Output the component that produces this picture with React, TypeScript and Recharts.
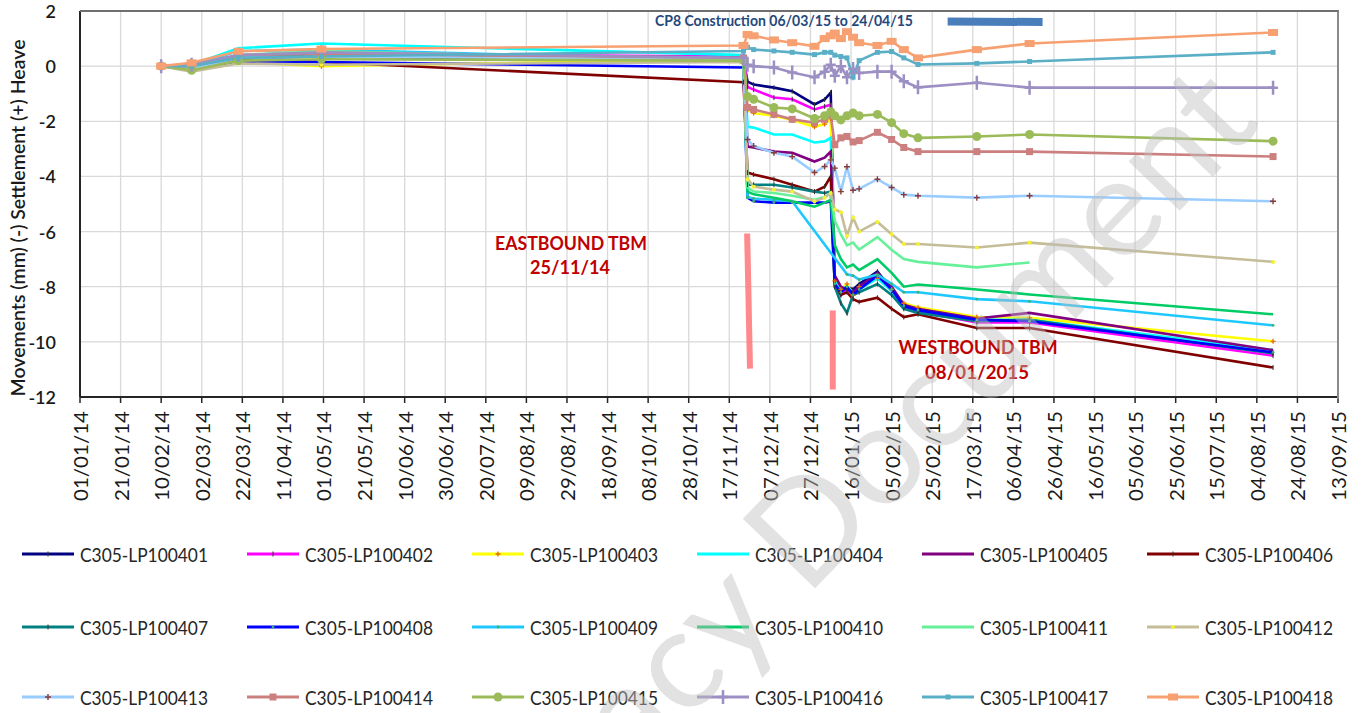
import React from 'react';
import { LineChart, Line, XAxis, YAxis, CartesianGrid, ReferenceLine } from 'recharts';

const FONT = "Lato, 'Open Sans', 'DejaVu Sans', sans-serif";

// x values: days since 01/01/14
const days = [40, 55, 78, 119, 327, 329, 332, 342, 351, 362, 367, 370, 372, 375, 378, 381, 384, 393, 400, 406, 413, 442, 468, 588];

const s401 = [0, -0.1, 0.3, 0.35, 0.2, -0.56, -0.67, -0.78, -0.91, -1.39, -1.21, -0.96, -7.8, -8.2, -8.0, -8.1, -7.9, -7.45, -8.1, -8.7, -8.9, -9.25, -9.25, -10.4];
const s402 = [0, 0, 0.35, 0.45, 0.35, -0.75, -0.85, -1.14, -1.2, -1.57, -1.46, -1.4, -7.9, -8.3, -8.1, -8.25, -8.0, -7.6, -8.15, -8.75, -8.9, -9.3, -9.3, -10.5];
const s403 = [0, -0.05, 0.15, 0.0, 0.25, -1.6, -1.7, -1.8, -1.95, -2.2, -2.1, -1.9, -7.8, -8.1, -7.9, -8.3, -8.0, -7.7, -8.1, -8.6, -8.75, -9.1, -9.13, -9.98];
const s404 = [0, 0.05, 0.65, 0.82, 0.4, -2.2, -2.23, -2.48, -2.48, -2.77, -2.73, -2.6, -7.7, -8.1, -8.0, -8.2, -8.1, -7.7, -8.15, -8.7, -8.85, -9.2, -9.2, -10.3];
const s405 = [0, -0.05, 0.3, 0.45, 0.3, -2.92, -2.95, -3.1, -3.14, -3.46, -3.32, -3.1, -7.6, -8.0, -8.1, -8.2, -8.0, -7.5, -8.0, -8.65, -8.8, -9.15, -8.95, -10.3];
const s406 = [0, -0.05, 0.25, 0.15, -0.58, -3.86, -3.93, -4.1, -4.3, -4.55, -4.37, -4.0, -8.0, -8.3, -8.2, -8.45, -8.55, -8.4, -8.8, -9.1, -9.0, -9.5, -9.5, -10.93];
const s407 = [0, -0.1, 0.3, 0.4, 0.2, -4.3, -4.3, -4.3, -4.4, -4.55, -4.6, -4.55, -8.0, -8.6, -8.95, -8.3, -8.2, -7.9, -8.3, -8.8, -8.95, -9.25, -9.2, -10.42];
const s408 = [0, -0.05, 0.15, 0.15, -0.05, -4.77, -4.9, -4.95, -4.95, -4.95, -4.95, -4.9, -7.9, -8.2, -8.0, -8.3, -8.1, -7.6, -8.1, -8.7, -8.85, -9.2, -9.25, -10.38];
const s409 = [0, 0, 0.55, 0.6, 0.2, -4.75, -4.8, -4.85, -4.9, null, null, null, null, null, -7.55, -7.6, -7.74, -7.56, -7.9, -8.2, -8.2, -8.45, -8.53, -9.4];
const s410 = [0, -0.1, 0.35, 0.5, 0.2, -4.55, -4.65, -4.77, -4.9, -5.1, -4.95, -4.85, -6.5, -7.0, -7.3, -7.2, -7.4, -7.0, -7.5, -8.0, -7.92, -8.1, -8.28, -9.0];
const s411 = [0, -0.05, 0.4, 0.55, 0.2, -4.4, -4.55, -4.6, -4.7, -4.85, -4.75, -4.6, -5.6, -6.1, -6.5, -6.4, -6.65, -6.2, -6.66, -7.0, -7.1, -7.3, -7.12, null];
const s412 = [0, -0.2, 0.1, 0.05, 0.15, -4.1, -4.37, -4.48, -4.55, -4.9, -4.77, -4.6, -5.2, -5.3, -6.15, -5.5, -6.0, -5.65, -6.1, -6.45, -6.45, -6.58, -6.4, -7.1];
const s413 = [0, -0.1, 0.3, 0.35, 0.25, -2.66, -2.9, -3.14, -3.28, -3.86, -3.64, -3.4, -3.7, -4.55, -3.65, -4.5, -4.45, -4.1, -4.4, -4.66, -4.7, -4.77, -4.7, -4.9];
const s414 = [0, 0, 0.4, 0.45, 0.3, -1.5, -1.57, -1.75, -1.93, -2.05, -1.93, -1.8, -2.85, -2.6, -2.55, -2.75, -2.7, -2.4, -2.66, -2.95, -3.1, -3.1, -3.1, -3.28];
const s415 = [0, -0.15, 0.2, 0.25, 0.2, -1.1, -1.2, -1.5, -1.55, -1.9, -1.8, -1.65, -1.8, -1.95, -1.8, -1.7, -1.8, -1.75, -2.05, -2.45, -2.6, -2.55, -2.48, -2.72];
const s416 = [0, 0.05, 0.4, 0.5, 0.3, 0.05, 0, -0.05, -0.23, -0.4, -0.2, 0.05, -0.35, 0, -0.4, -0.1, -0.25, -0.2, -0.2, -0.55, -0.77, -0.6, -0.78, -0.78];
const s417 = [0, 0, 0.3, 0.35, 0.55, 0.68, 0.6, 0.55, 0.5, 0.42, 0.5, 0.5, 0.4, 0.35, 0.3, -0.4, 0.2, 0.5, 0.53, 0.3, 0.06, 0.1, 0.17, 0.5];
const s418 = [0, 0.12, 0.54, 0.62, 0.75, 1.15, 1.1, 0.95, 0.85, 0.72, 1.0, 1.1, 1.2, 1.0, 1.25, 1.05, 0.85, 0.75, 0.9, 0.6, 0.3, 0.6, 0.82, 1.22];

const seriesNames = [
  'C305-LP100401', 'C305-LP100402', 'C305-LP100403', 'C305-LP100404', 'C305-LP100405', 'C305-LP100406',
  'C305-LP100407', 'C305-LP100408', 'C305-LP100409', 'C305-LP100410', 'C305-LP100411', 'C305-LP100412',
  'C305-LP100413', 'C305-LP100414', 'C305-LP100415', 'C305-LP100416', 'C305-LP100417', 'C305-LP100418',
];
const seriesValues = [s401, s402, s403, s404, s405, s406, s407, s408, s409, s410, s411, s412, s413, s414, s415, s416, s417, s418];
const seriesColors = [
  '#000080', '#FF00FF', '#FFFF00', '#00FFFF', '#800080', '#800000',
  '#008080', '#0000FF', '#1EC8FF', '#00CC66', '#66F099', '#C4BD97',
  '#99CCFF', '#CC7F7F', '#9BBB59', '#9C8FC4', '#5AAFC7', '#F7A072',
];
const markerKinds = [
  'darkTick', 'darkTick', 'orangePlus', 'none', 'none', 'darkTick',
  'darkTick', 'greenDot', 'greenDot', 'none', 'none', 'yellowDot',
  'redPlus', 'square', 'circle', 'bigPlus', 'smallSquare', 'rect',
];

const xTicks = [0, 20, 40, 60, 80, 100, 120, 140, 160, 180, 200, 220, 240, 260, 280, 300, 320, 340, 360, 380, 400, 420, 440, 460, 480, 500, 520, 540, 560, 580, 600, 620];
const yTicks = [-12, -10, -8, -6, -4, -2, 0, 2];

const seriesKeys = seriesNames.map((n) => 's' + n.slice(-6));
const data = days.map((d, i) => {
  const row: any = { day: d };
  seriesKeys.forEach((k, j) => {
    row[k] = seriesValues[j][i];
  });
  return row;
});

const DAY0 = Date.UTC(2014, 0, 1);
const fmtDay = (d: number) => {
  const dt = new Date(DAY0 + d * 86400000);
  const dd = String(dt.getUTCDate()).padStart(2, '0');
  const mm = String(dt.getUTCMonth() + 1).padStart(2, '0');
  const yy = String(dt.getUTCFullYear() % 100).padStart(2, '0');
  return `${dd}/${mm}/${yy}`;
};

function marker(kind: string, cx: number, cy: number, color: string, key?: string) {
  switch (kind) {
    case 'darkTick':
      return <path key={key} d={`M${cx},${cy - 2.5}V${cy + 2.5}`} stroke="#333" strokeWidth={1} />;
    case 'orangePlus':
      return <path key={key} d={`M${cx - 2.5},${cy}H${cx + 2.5}M${cx},${cy - 2.5}V${cy + 2.5}`} stroke="#E36C09" strokeWidth={1.3} />;
    case 'redPlus':
      return <path key={key} d={`M${cx - 3},${cy}H${cx + 3}M${cx},${cy - 3}V${cy + 3}`} stroke="#8B3A3A" strokeWidth={1.4} />;
    case 'greenDot':
      return <circle key={key} cx={cx} cy={cy} r={1.4} fill="#3CB371" />;
    case 'yellowDot':
      return <circle key={key} cx={cx} cy={cy} r={2} fill="#F2F230" />;
    case 'square':
      return <rect key={key} x={cx - 3.5} y={cy - 3.5} width={7} height={7} fill={color} />;
    case 'smallSquare':
      return <rect key={key} x={cx - 2.5} y={cy - 2.5} width={5} height={5} fill={color} />;
    case 'rect':
      return <rect key={key} x={cx - 5} y={cy - 3.5} width={10} height={7} fill={color} />;
    case 'circle':
      return <circle key={key} cx={cx} cy={cy} r={4.5} fill={color} />;
    case 'bigPlus':
      return <path key={key} d={`M${cx - 5},${cy}H${cx + 5}M${cx},${cy - 7}V${cy + 7}`} stroke={color} strokeWidth={2.5} />;
    default:
      return <g key={key} />;
  }
}

const XTick = (props: any) => {
  const { x, y, payload } = props;
  return (
    <text
      transform={`translate(${x},${y}) rotate(-90)`}
      textAnchor="end"
      dominantBaseline="central"
      fontSize={20}
      fontFamily={FONT}
      fill="#1a1a1a"
      textLength={90}
      lengthAdjust="spacingAndGlyphs"
    >
      {fmtDay(payload.value)}
    </text>
  );
};

const YTick = (props: any) => {
  const { x, y, payload } = props;
  return (
    <text x={x} y={y} textAnchor="end" dominantBaseline="central" fontSize={18} fontFamily={FONT} fontWeight={600} fill="#1a1a1a">
      {payload.value}
    </text>
  );
};

const legendRows = [554, 627, 697];

export default function App() {
  return (
    <div style={{ position: 'absolute', left: 0, top: 0, width: 1364, height: 713, background: '#fff', overflow: 'hidden' }}>
      <LineChart width={1364} height={530} data={data} margin={{ top: 11, right: 26, bottom: 60, left: 0 }}>
        <CartesianGrid stroke="#D9D9D9" strokeWidth={1.3} />
        <XAxis
          type="number"
          dataKey="day"
          domain={[0, 620]}
          ticks={xTicks}
          interval={0}
          height={73}
          tick={<XTick />}
          tickSize={6}
          tickMargin={8}
          axisLine={{ stroke: '#262626', strokeWidth: 2 }}
          tickLine={{ stroke: '#262626', strokeWidth: 1.5 }}
          allowDataOverflow
        />
        <YAxis
          type="number"
          domain={[-12, 2]}
          ticks={yTicks}
          interval={0}
          width={80}
          tick={<YTick />}
          tickLine={false}
          tickMargin={18}
          axisLine={{ stroke: '#262626', strokeWidth: 2 }}
          allowDataOverflow
        />
        {seriesKeys.map((k, j) => (
          <Line
            key={k}
            type="linear"
            dataKey={k}
            name={seriesNames[j]}
            stroke={seriesColors[j]}
            strokeWidth={2.6}
            connectNulls
            isAnimationActive={false}
            activeDot={false}
            dot={(p: any) =>
              p.cx == null || p.cy == null || p.value == null
                ? <g key={`${k}-${p.index}`} />
                : marker(markerKinds[j], p.cx, p.cy, seriesColors[j], `${k}-${p.index}`)
            }
          />
        ))}
        <ReferenceLine segment={[{ x: 328.8, y: -6.07 }, { x: 330.2, y: -10.97 }]} stroke="#FF7C80" strokeWidth={6} strokeOpacity={0.9} ifOverflow="visible" />
        <ReferenceLine segment={[{ x: 371, y: -8.86 }, { x: 371, y: -11.73 }]} stroke="#FF7C80" strokeWidth={6} strokeOpacity={0.9} ifOverflow="visible" />
        <ReferenceLine segment={[{ x: 427.6, y: 1.62 }, { x: 474.4, y: 1.6 }]} stroke="#4A7EBB" strokeWidth={8} ifOverflow="visible" />
      </LineChart>

      <div style={{ position: 'absolute', left: 80, top: 10, width: 1257, height: 387, borderTop: '2px solid #6f6f6f', borderRight: '2px solid #8a8a8a', pointerEvents: 'none' }} />

      <svg width={1364} height={713} style={{ position: 'absolute', left: 0, top: 0, pointerEvents: 'none' }}>
        <text x={17} y={218} transform="rotate(-90 17 218)" textAnchor="middle" dominantBaseline="central" fontSize={19} fontFamily={FONT} fontWeight={600} fill="#1a1a1a" textLength={357} lengthAdjust="spacingAndGlyphs">
          Movements (mm) (-) Settlement (+) Heave
        </text>
        <text x={655} y={20} dominantBaseline="central" fontSize={15} fontWeight={700} fontFamily={FONT} fill="#1F497D" textLength={258} lengthAdjust="spacingAndGlyphs">
          CP8 Construction  06/03/15 to 24/04/15
        </text>
        <text x={571} y={243} textAnchor="middle" dominantBaseline="central" fontSize={18} fontWeight={700} fontFamily={FONT} fill="#C00000" textLength={152} lengthAdjust="spacingAndGlyphs">
          EASTBOUND TBM
        </text>
        <text x={570} y={267} textAnchor="middle" dominantBaseline="central" fontSize={18} fontWeight={700} fontFamily={FONT} fill="#C00000" textLength={80} lengthAdjust="spacingAndGlyphs">
          25/11/14
        </text>
        <text x={978} y={347} textAnchor="middle" dominantBaseline="central" fontSize={18} fontWeight={700} fontFamily={FONT} fill="#C00000" textLength={159} lengthAdjust="spacingAndGlyphs">
          WESTBOUND TBM
        </text>
        <text x={977} y={372} textAnchor="middle" dominantBaseline="central" fontSize={18} fontWeight={700} fontFamily={FONT} fill="#C00000" textLength={104} lengthAdjust="spacingAndGlyphs">
          08/01/2015
        </text>

        {seriesNames.map((n, j) => {
          const col = j % 6;
          const row = Math.floor(j / 6);
          const x0 = 22 + col * 225;
          const y0 = legendRows[row];
          return (
            <g key={n}>
              <line x1={x0} y1={y0} x2={x0 + 52} y2={y0} stroke={seriesColors[j]} strokeWidth={3} />
              {marker(markerKinds[j], x0 + 26, y0, seriesColors[j])}
              <text x={x0 + 58} y={y0} dominantBaseline="central" fontSize={19} fontFamily={FONT} fill="#262626" textLength={128} lengthAdjust="spacingAndGlyphs">
                {n}
              </text>
            </g>
          );
        })}

        <text x={835} y={490} transform="rotate(-46 835 490)" textAnchor="middle" dominantBaseline="central" fontSize={140} fontFamily={FONT} fill="#BFBFBF" opacity={0.45} textLength={1120} lengthAdjust="spacingAndGlyphs">
          Legacy Document
        </text>
      </svg>
    </div>
  );
}
